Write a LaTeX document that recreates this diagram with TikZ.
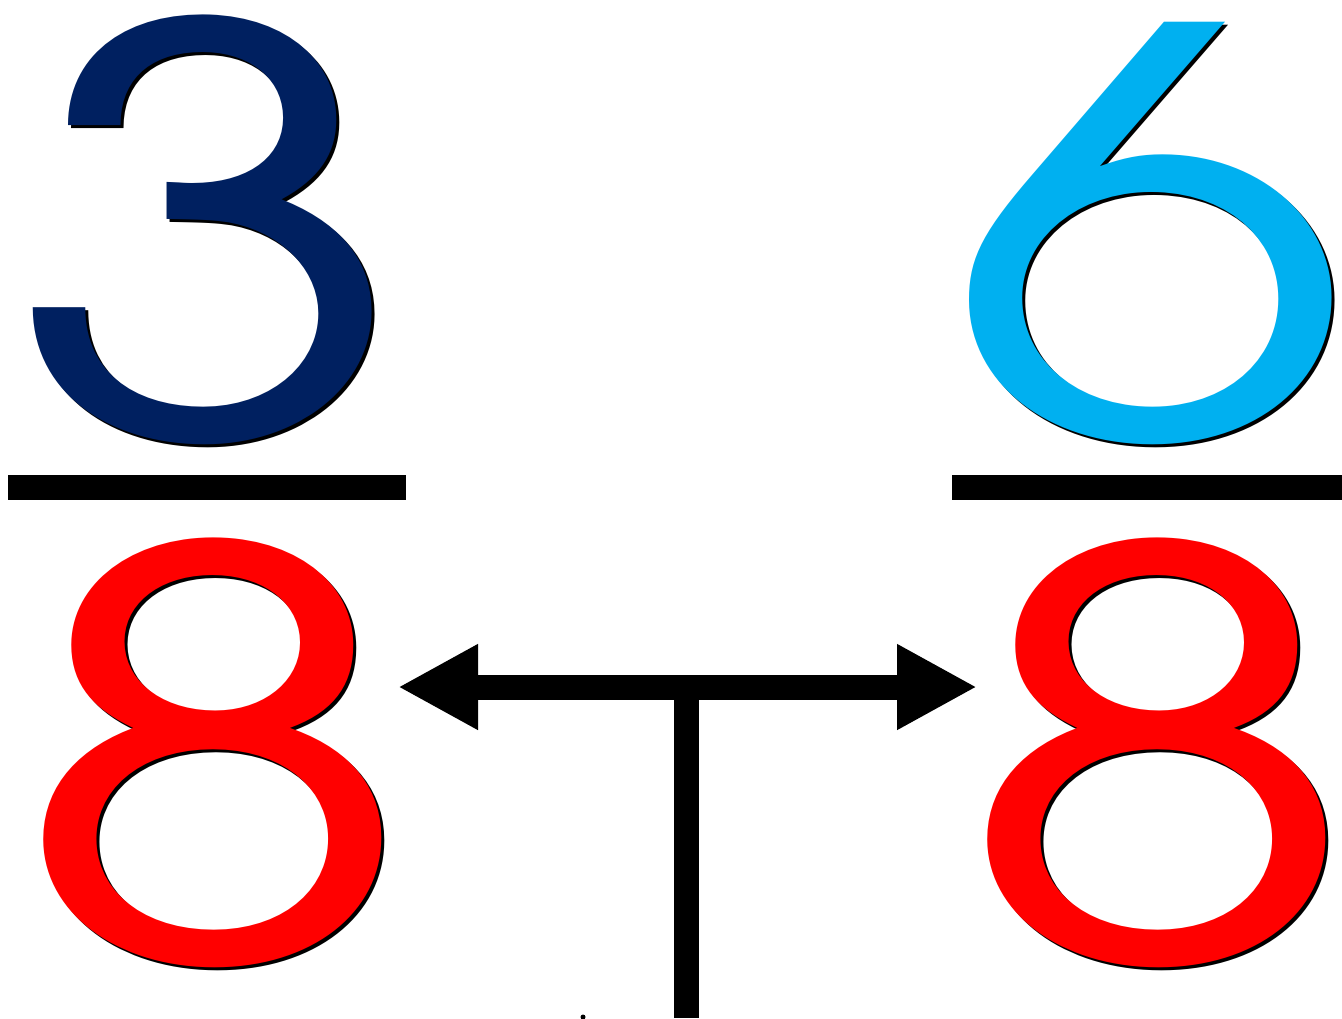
\documentclass[tikz,border=0pt]{standalone}
\usepackage{fontspec}
\setmainfont{TeX Gyre Adventor}
\usetikzlibrary{arrows.meta}
\definecolor{numnavy}{HTML}{002060}
\definecolor{numsky}{HTML}{00B0F0}
\definecolor{denred}{HTML}{FF0000}

\tikzset{
  digit/.style={inner sep=0pt, font=\fontsize{281}{281}\selectfont, anchor=base, xscale=1.28},
  fracbar/.style={fill=black},
  link/.style={line width=12.5pt},
}
% a large digit with a thin black drop shadow
\newcommand\shadowdigit[4]{%
  \node[digit, text=black] at ([shift={(3,3)}]#2) {#4};
  \node[digit, text=#3] (#1) at (#2) {#4};
}

\begin{document}
\begin{tikzpicture}[x=0.5pt, y=-0.5pt]
  \useasboundingbox (0,0) rectangle (1342,1018);

  % left fraction 3/8
  \shadowdigit{numA}{209,437}{numnavy}{3}
  \fill[fracbar] (8,475) rectangle (406,500);
  \shadowdigit{denA}{213,960}{denred}{8}

  % right fraction 6/8
  \shadowdigit{numB}{1151,437}{numsky}{6}
  \fill[fracbar] (952,475) rectangle (1342,500);
  \shadowdigit{denB}{1157,960}{denred}{8}

  % double arrow between the denominators with a stem below
  \coordinate (arrL) at (398,687);
  \coordinate (arrR) at (977,687);
  \coordinate (stemTop) at (686,687);
  \coordinate (stemBot) at (686,1018);
  \draw[link, {Triangle[length=40pt,width=40pt]}-{Triangle[length=40pt,width=40pt]}] (arrL) -- (arrR);
  \draw[link] (stemTop) -- (stemBot);

  \fill (583,1017) circle (2.5);
\end{tikzpicture}
\end{document}
